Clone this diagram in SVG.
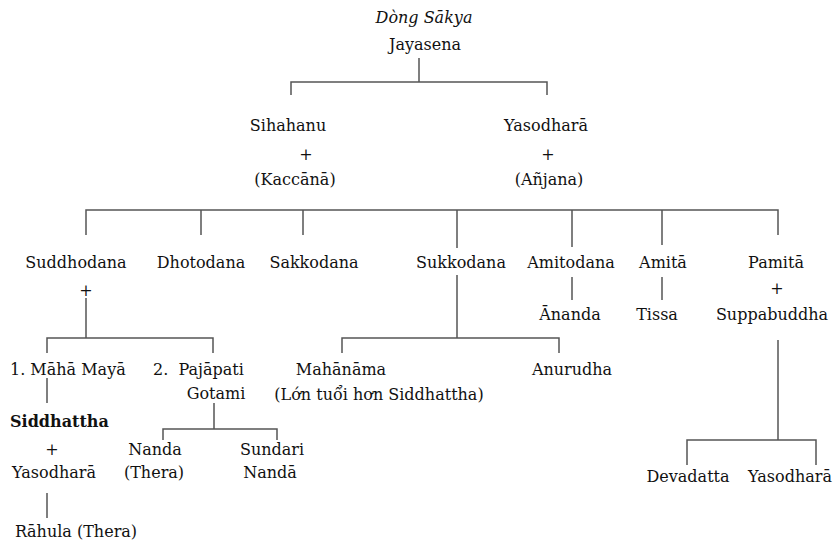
<svg xmlns="http://www.w3.org/2000/svg" width="838" height="542" viewBox="0 0 838 542">
<style>
text{font-family:"DejaVu Serif","Liberation Serif",serif;font-size:16px;fill:#111}
.m{text-anchor:middle}
.i{font-style:italic}
.b{font-weight:bold}
#connectors path{fill:none;stroke:#555;stroke-width:1.5}
</style>
<rect width="838" height="542" fill="#fff"/>
<g id="connectors">
<path d="M419 58V82M291 95V82H547V95"/>
<path d="M86 235V210H778V235M201 210V235M303 210V235M457 210V248M572 210V247M662 210V245"/>
<path d="M86 298V338M47 353V338H213V353"/>
<path d="M457 275V338M342 353V338H559V353"/>
<path d="M572 277V300M662 277V300"/>
<path d="M778 340V440M687 465V440H816V465"/>
<path d="M47 378V403M47 493V518"/>
<path d="M214 403V429M163 440V429H277V440"/>
</g>
<g id="root"><text class="m i" x="424" y="23">Dòng Sākya</text><text class="m" x="425" y="50">Jayasena</text></g>
<g id="sihahanu"><text class="m" x="288" y="131">Sihahanu</text><text class="m" x="306" y="160">+</text><text class="m" x="295" y="185">(Kaccānā)</text></g>
<g id="yasodhara1"><text class="m" x="546" y="131">Yasodharā</text><text class="m" x="548" y="160">+</text><text class="m" x="549" y="185">(Añjana)</text></g>
<g id="suddhodana"><text class="m" x="76" y="268">Suddhodana</text><text class="m" x="86" y="296">+</text></g>
<g id="dhotodana"><text class="m" x="201" y="268">Dhotodana</text></g>
<g id="sakkodana"><text class="m" x="314" y="268">Sakkodana</text></g>
<g id="sukkodana"><text class="m" x="461" y="268">Sukkodana</text></g>
<g id="amitodana"><text class="m" x="571" y="268">Amitodana</text></g>
<g id="amita"><text class="m" x="663" y="268">Amitā</text></g>
<g id="pamita"><text class="m" x="776" y="268">Pamitā</text><text class="m" x="777" y="294">+</text><text class="m" x="772" y="320">Suppabuddha</text></g>
<g id="ananda"><text class="m" x="570" y="320">Ānanda</text></g>
<g id="tissa"><text class="m" x="657" y="320">Tissa</text></g>
<g id="mahamaya"><text x="10" y="375">1. Māhā Mayā</text></g>
<g id="pajapati"><text x="153" y="375" xml:space="preserve">2.  Pajāpati</text><text class="m" x="216" y="399">Gotami</text></g>
<g id="mahanama"><text class="m" x="341" y="375">Mahānāma</text><text class="m" x="379" y="400">(Lớn tuổi hơn Siddhattha)</text></g>
<g id="anurudha"><text class="m" x="572" y="375">Anurudha</text></g>
<g id="siddhattha"><text class="b" x="10" y="427">Siddhattha</text><text class="m" x="52" y="455">+</text><text x="12" y="478">Yasodharā</text></g>
<g id="nanda"><text class="m" x="155" y="455">Nanda</text><text class="m" x="154" y="478">(Thera)</text></g>
<g id="sundari"><text class="m" x="272" y="455">Sundari</text><text class="m" x="270" y="478">Nandā</text></g>
<g id="rahula"><text x="15" y="537">Rāhula (Thera)</text></g>
<g id="devadatta"><text class="m" x="688" y="482">Devadatta</text></g>
<g id="yasodhara2"><text class="m" x="790" y="482">Yasodharā</text></g>
</svg>
